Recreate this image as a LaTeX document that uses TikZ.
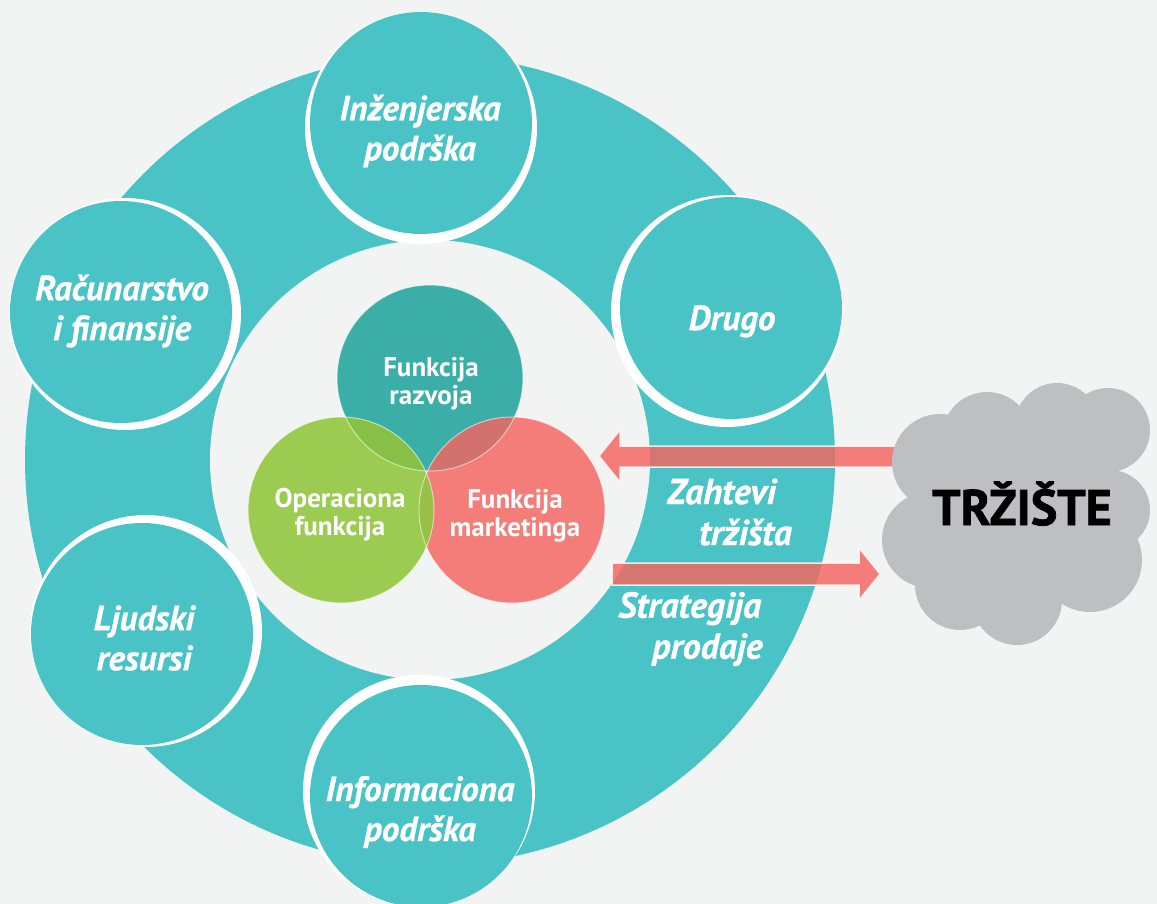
\documentclass[tikz,border=0pt]{standalone}
\usepackage{fontspec}
\setmainfont{PT Sans}
\usetikzlibrary{calc}

\definecolor{bg}{HTML}{F2F4F3}
\definecolor{ringteal}{HTML}{4AC3C6}
\definecolor{devteal}{HTML}{3BAFA7}
\definecolor{opgreen}{HTML}{9CCB51}
\definecolor{mksalmon}{HTML}{F47D79}
\definecolor{devop}{HTML}{86C046}
\definecolor{devmk}{HTML}{D3726D}
\definecolor{opmk}{HTML}{9ABF48}
\definecolor{arrowdark}{HTML}{D57671}
\definecolor{cloudgray}{HTML}{BEBFC1}

% block arrows between the market cloud and the marketing circle
\newcommand\demandarrow[1]{\path[#1] (reqTip) -- ++(21,-26) -- ++(0,16) -- ++(290,0) -- ++(0,21) -- ++(-290,0) -- ++(0,15) -- cycle;}
\newcommand\salesarrow[1]{\path[#1] (saleTip) -- ++(-21,-26) -- ++(0,15) -- ++(-247,0) -- ++(0,22) -- ++(247,0) -- ++(0,15) -- cycle;}

\begin{document}
\begin{tikzpicture}[x=1pt,y=-1pt,
  satcircle/.style={circle, fill=ringteal, minimum size=222pt, inner sep=0pt},
  vennc/.style={circle, minimum size=186pt, inner sep=0pt},
  satlabel/.style={text=white, align=center, inner sep=0pt, font=\fontsize{35}{40}\selectfont\bfseries\itshape\addfontfeature{FakeBold=0.8}},
  vennlabel/.style={text=white, align=center, inner sep=0pt, font=\fontsize{27}{28}\selectfont\bfseries},
  flowlabel/.style={text=white, align=left, inner sep=0pt, anchor=west, font=\fontsize{36}{41}\selectfont\bfseries\itshape\addfontfeature{FakeBold=0.8}},
  arrowedge/.style={draw=white, draw opacity=.8, line width=1.5pt, line join=miter},
]
\useasboundingbox (0,0) rectangle (1157,904);
\fill[bg] (0,0) rectangle (1157,904);

% main ring with the light hub
\node[circle, fill=ringteal, minimum size=810pt, inner sep=0pt] (ring) at (430,460) {};
\node[circle, fill=bg, minimum size=440pt, inner sep=0pt] (hub) at (430,460) {};

% satellite circles, each with an offset white rim
\foreach \nm/\cx/\cy/\wx/\wy in {eng/421/123/421/128, other/731/308/727/311, fin/121/312/125/314, hr/142/634/146/631, info/421/796/419/791}{
  \fill[white] (\wx,\wy) circle[radius=116pt];
  \node[satcircle] (\nm) at (\cx,\cy) {};
}

% three overlapping functions
\node[vennc, fill=devteal] (dev) at (430,378) {};
\node[vennc, fill=mksalmon] (mkt) at (512,510) {};
\node[vennc, fill=opgreen] (ops) at (341,510) {};
\begin{scope}
  \clip (dev.center) circle[radius=93pt];
  \fill[devop] (ops.center) circle[radius=93pt];
  \fill[devmk] (mkt.center) circle[radius=93pt];
\end{scope}
\begin{scope}
  \clip (ops.center) circle[radius=93pt];
  \fill[opmk] (mkt.center) circle[radius=93pt];
\end{scope}
\foreach \c in {dev,ops,mkt}
  \draw[white, opacity=.55, line width=1pt] (\c.center) circle[radius=93pt];

% arrows: darker where they cross the ring
\coordinate (reqTip) at (599,456);
\coordinate (saleTip) at (880,574);
\demandarrow{fill=mksalmon}
\salesarrow{fill=mksalmon}
\begin{scope}
  \clip (ring.center) circle[radius=405pt];
  \demandarrow{fill=arrowdark}
  \salesarrow{fill=arrowdark}
\end{scope}
\begin{scope}
  \clip (hub.center) circle[radius=220pt];
  \demandarrow{fill=mksalmon}
  \salesarrow{fill=mksalmon}
\end{scope}
\demandarrow{arrowedge}
\salesarrow{arrowedge}

% market cloud
\fill[cloudgray]
  (940,462) circle[radius=48pt]
  (987,437) circle[radius=45pt]
  (1057,425) circle[radius=42pt]
  (1108,430) circle[radius=42pt]
  (1110,510) circle[radius=40pt]
  (1090,560) circle[radius=52pt]
  (1017,600) circle[radius=45pt]
  (960,585) circle[radius=45pt]
  (930,540) circle[radius=48pt]
  (1020,510) circle[radius=95pt];
\node[anchor=base, inner sep=0pt, font=\fontsize{50}{54}\selectfont\bfseries\addfontfeature{FakeBold=1.5}] (market) at (1022,525) {TRŽIŠTE};

% labels
\node[satlabel] (engT) at (420,131) {Inženjerska\\podrška};
\node[satlabel, anchor=base] (otherT) at (732,330) {Drugo};
\node[satlabel] (finT) at (122,311) {Računarstvo\\i finansije};
\node[satlabel] (hrT) at (144,638) {Ljudski\\resursi};
\node[satlabel] (infoT) at (420,812) {Informaciona\\podrška};

\node[vennlabel] (devT) at (431,384) {Funkcija\\razvoja};
\node[vennlabel] (opsT) at (340,515) {Operaciona\\funkcija};
\node[vennlabel] (mktT) at (515,516) {Funkcija\\marketinga};

\node[flowlabel] (reqT) at (667,512) {Zahtevi\\\hspace*{32pt}tržišta};
\node[flowlabel] (saleT) at (618,629) {Strategija\\\hspace*{34pt}prodaje};
\end{tikzpicture}
\end{document}
